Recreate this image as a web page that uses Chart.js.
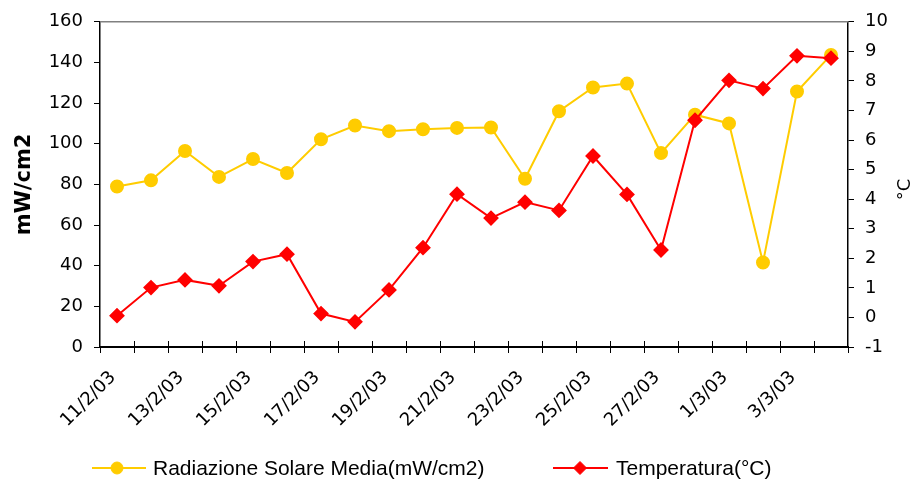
<!DOCTYPE html>
<html>
<head>
<meta charset="utf-8">
<script src="https://cdn.jsdelivr.net/npm/chart.js@4"></script>
<style>
  html, body { margin: 0; padding: 0; background: #fff; }
  #wrap { width: 920px; height: 481px; }
</style>
</head>
<body>
<div id="wrap"><canvas id="myChart" width="920" height="481"></canvas></div>
<script>
// data
var dates = ["11/2/03", "12/2/03", "13/2/03", "14/2/03", "15/2/03", "16/2/03", "17/2/03", "18/2/03",
             "19/2/03", "20/2/03", "21/2/03", "22/2/03", "23/2/03", "24/2/03", "25/2/03", "26/2/03",
             "27/2/03", "28/2/03", "1/3/03", "2/3/03", "3/3/03", "4/3/03"];
var radiazione = [79, 82, 96.4, 83.7, 92.5, 85.6, 102.2, 109, 106.2, 107.1, 107.8, 108,
                  82.8, 116, 127.7, 129.6, 95.4, 114.3, 110, 41.6, 125.7, 143.7];
var temperatura = [0.06, 1.01, 1.27, 1.07, 1.89, 2.14, 0.13, -0.15, 0.93, 2.36, 4.17, 3.36,
                   3.9, 3.62, 5.46, 4.16, 2.28, 6.67, 8.02, 7.74, 8.85, 8.77];
var radTicks = [0, 160, 20];   // min, max, step
var tempTicks = [-1, 10, 1];

var YELLOW = "#FFCC00", RED = "#FF0000";
var tickFont = { family: "DejaVu Sans", size: 18 };

// top border, x tick marks crossing the axis, right axis title, legend (line through marker)
var extras = {
  id: "extras",
  afterDraw: function(chart) {
    var ctx = chart.ctx, a = chart.chartArea;
    ctx.save();
    ctx.strokeStyle = "#808080";
    ctx.lineWidth = 1.5;
    ctx.beginPath();
    ctx.moveTo(a.left, a.top);
    ctx.lineTo(a.right, a.top);
    ctx.stroke();

    // inner half of x tick marks
    var xs = chart.scales.x;
    ctx.strokeStyle = "#000";
    ctx.lineWidth = 1;
    ctx.beginPath();
    for (var i = 1; i < dates.length; i++) {
      var gx = Math.round((xs.getPixelForTick(i - 1) + xs.getPixelForTick(i)) / 2) + 0.5;
      ctx.moveTo(gx, a.bottom - 6);
      ctx.lineTo(gx, a.bottom);
    }
    ctx.stroke();

    ctx.fillStyle = "#000";
    ctx.font = "18px 'DejaVu Sans'";
    ctx.textAlign = "center";
    ctx.textBaseline = "middle";
    ctx.translate(905, (a.top + a.bottom) / 2 + 5);
    ctx.rotate(-Math.PI / 2);
    ctx.fillText("°C", 0, 0);
    ctx.restore();

    var items = [
      { ds: chart.data.datasets[1], x1: 92, x2: 146, mx: 117, tx: 153 },
      { ds: chart.data.datasets[0], x1: 553, x2: 608, mx: 580, tx: 616 }
    ];
    var ly = 468;
    items.forEach(function(it) {
      ctx.save();
      ctx.strokeStyle = it.ds.borderColor;
      ctx.lineWidth = 2;
      ctx.beginPath();
      ctx.moveTo(it.x1, ly);
      ctx.lineTo(it.x2, ly);
      ctx.stroke();
      ctx.fillStyle = it.ds.pointBackgroundColor;
      ctx.strokeStyle = it.ds.pointBorderColor;
      ctx.lineWidth = 1;
      Chart.helpers.drawPoint(ctx, { pointStyle: it.ds.pointStyle, radius: it.ds.pointRadius, rotation: 0, borderWidth: 1 }, it.mx, ly);
      ctx.fillStyle = "#000";
      ctx.font = "21px 'Liberation Sans'";
      ctx.textAlign = "left";
      ctx.textBaseline = "middle";
      ctx.fillText(it.ds.label, it.tx, ly + 1);
      ctx.restore();
    });
  }
};

var ctx = document.getElementById("myChart").getContext("2d");
var myChart = new Chart(ctx, {
  type: "line",
  data: {
    labels: dates,
    datasets: [{
      label: "Temperatura(°C)",
      data: temperatura,
      yAxisID: "yT",
      order: 0,
      borderColor: RED,
      borderWidth: 2,
      pointStyle: "rectRot",
      pointRadius: 6.5,
      pointBackgroundColor: RED,
      pointBorderColor: RED,
      tension: 0
    }, {
      label: "Radiazione Solare Media(mW/cm2)",
      data: radiazione,
      yAxisID: "yR",
      order: 1,
      borderColor: YELLOW,
      borderWidth: 2,
      pointStyle: "circle",
      pointRadius: 6,
      pointBackgroundColor: YELLOW,
      pointBorderColor: YELLOW,
      tension: 0
    }]
  },
  options: {
    responsive: false,
    animation: false,
    layout: { padding: { top: 20, left: 0, right: 0, bottom: 0 } },
    plugins: { legend: { display: false }, tooltip: { enabled: false } },
    scales: {
      x: {
        type: "category",
        offset: true,
        grid: { offset: true, drawOnChartArea: false, color: "#000", tickLength: 6, lineWidth: 1 },
        border: { color: "#000", width: 2 },
        ticks: {
          color: "#000", font: tickFont, autoSkip: false, minRotation: 45, maxRotation: 45,
          padding: 14, labelOffset: -4,
          callback: function(v, i) { return i % 2 === 0 ? dates[i] : ""; }
        },
        afterFit: function(s) { s.height = 134; }
      },
      yR: {
        position: "left",
        min: radTicks[0], max: radTicks[1],
        grid: { drawOnChartArea: false, color: "#000", tickLength: 6 },
        border: { color: "#000", width: 1.5 },
        ticks: { stepSize: radTicks[2], color: "#000", font: tickFont, padding: 11 },
        title: { display: true, text: "mW/cm2", color: "#000", font: { family: "DejaVu Sans", size: 21, weight: "bold" }, padding: { top: 12, bottom: 0 } },
        afterFit: function(s) { s.width = 100; }
      },
      yT: {
        position: "right",
        min: tempTicks[0], max: tempTicks[1],
        grid: { drawOnChartArea: false, color: "#000", tickLength: 6 },
        border: { color: "#000", width: 1.5 },
        ticks: { stepSize: tempTicks[2], color: "#000", font: tickFont, padding: 11 },
        afterFit: function(s) { s.width = 72; }
      }
    }
  },
  plugins: [extras]
});
</script>
</body>
</html>
